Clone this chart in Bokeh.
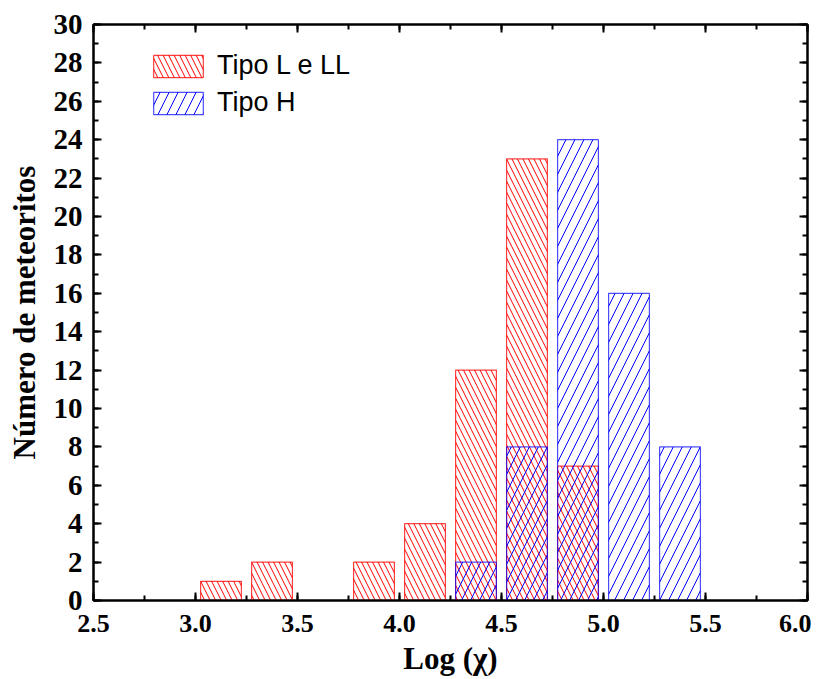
from bokeh.plotting import figure
from bokeh.models import (Range1d, SingleIntervalTicker, LinearAxis, Legend, LegendItem,
                          NumeralTickFormatter, ColumnDataSource, CustomLabelingPolicy)
from bokeh.embed import file_html
from bokeh.resources import INLINE

# Data
red_x = [3.125, 3.375, 3.875, 4.125, 4.375, 4.625, 4.875]
red_counts = [1, 2, 2, 4, 12, 23, 7]
blue_x = [4.375, 4.625, 4.875, 5.125, 5.375]
blue_counts = [2, 8, 24, 16, 8]
red_label = "Tipo L e LL"
blue_label = "Tipo H"
x_title = "Log (χ)"
y_title = "Número de meteoritos"

SERIF = "Liberation Serif"

p = figure(frame_width=714, frame_height=576, output_backend="svg", toolbar_location=None,
           x_range=Range1d(2.5, 6.0), y_range=Range1d(0, 30),
           min_border_left=93, min_border_top=24, min_border_right=3, min_border_bottom=63)
p.grid.visible = False
p.outline_line_color = "black"
p.outline_line_width = 2
p.background_fill_color = "white"
p.border_fill_color = "white"

src_r = ColumnDataSource(dict(x=red_x, top=red_counts))
src_b = ColumnDataSource(dict(x=blue_x, top=blue_counts))

r_red = p.vbar(x="x", top="top", width=0.2, source=src_r, fill_alpha=0,
               line_color="red", line_alpha=0.75, line_width=1.2,
               hatch_pattern="\\", hatch_color="red", hatch_scale=11, hatch_weight=1)
r_blue = p.vbar(x="x", top="top", width=0.2, source=src_b, fill_alpha=0,
                line_color="blue", line_alpha=0.7, line_width=1.2,
                hatch_pattern="/", hatch_color="blue", hatch_scale=18, hatch_weight=1)

xt = SingleIntervalTicker(interval=0.5, num_minor_ticks=2)
yt = SingleIntervalTicker(interval=2, num_minor_ticks=2)

hide_all = CustomLabelingPolicy(code="""
    for (const i of indices)
        indices.unset(i)
    return indices
""")


def style_axis(ax, show_labels, tick_size="26px"):
    ax.axis_line_width = 2
    ax.axis_line_color = "black"
    ax.major_tick_in = 8
    ax.major_tick_out = 0
    ax.minor_tick_in = 5
    ax.minor_tick_out = 0
    ax.major_tick_line_width = 2
    ax.minor_tick_line_width = 2
    ax.major_tick_line_color = "black"
    ax.minor_tick_line_color = "black"
    if show_labels:
        ax.major_label_text_font = SERIF
        ax.major_label_text_font_style = "bold"
        ax.major_label_text_font_size = tick_size
        ax.major_label_text_color = "black"
        ax.axis_label_text_font = SERIF
        ax.axis_label_text_font_style = "bold"
        ax.axis_label_text_font_size = "31px"
        ax.axis_label_text_color = "black"
    else:
        ax.major_label_text_font_size = "1px"
        ax.major_label_standoff = 0
        ax.major_label_policy = hide_all
        ax.axis_label = None


xa = p.xaxis[0]
xa.ticker = xt
xa.formatter = NumeralTickFormatter(format="0.0")
xa.axis_label = x_title
style_axis(xa, True, "26px")
xa.major_label_standoff = 14
xa.axis_label_standoff = 6

ya = p.yaxis[0]
ya.ticker = yt
ya.axis_label = y_title
style_axis(ya, True, "29px")
ya.major_label_standoff = 11
ya.axis_label_standoff = 9

top_ax = LinearAxis(ticker=xt)
style_axis(top_ax, False)
p.add_layout(top_ax, "above")
right_ax = LinearAxis(ticker=yt)
style_axis(right_ax, False)
p.add_layout(right_ax, "right")

legend = Legend(items=[LegendItem(label=red_label, renderers=[r_red]),
                       LegendItem(label=blue_label, renderers=[r_blue])],
                location=(54, 482), orientation="vertical",
                glyph_width=62, glyph_height=28, spacing=6, padding=0, margin=0,
                label_standoff=8, label_height=28,
                label_text_font="Liberation Sans", label_text_font_size="27px",
                label_text_color="black",
                border_line_alpha=0, background_fill_alpha=0)
p.add_layout(legend, "center")

open("out.html", "w").write(file_html(p, INLINE))
